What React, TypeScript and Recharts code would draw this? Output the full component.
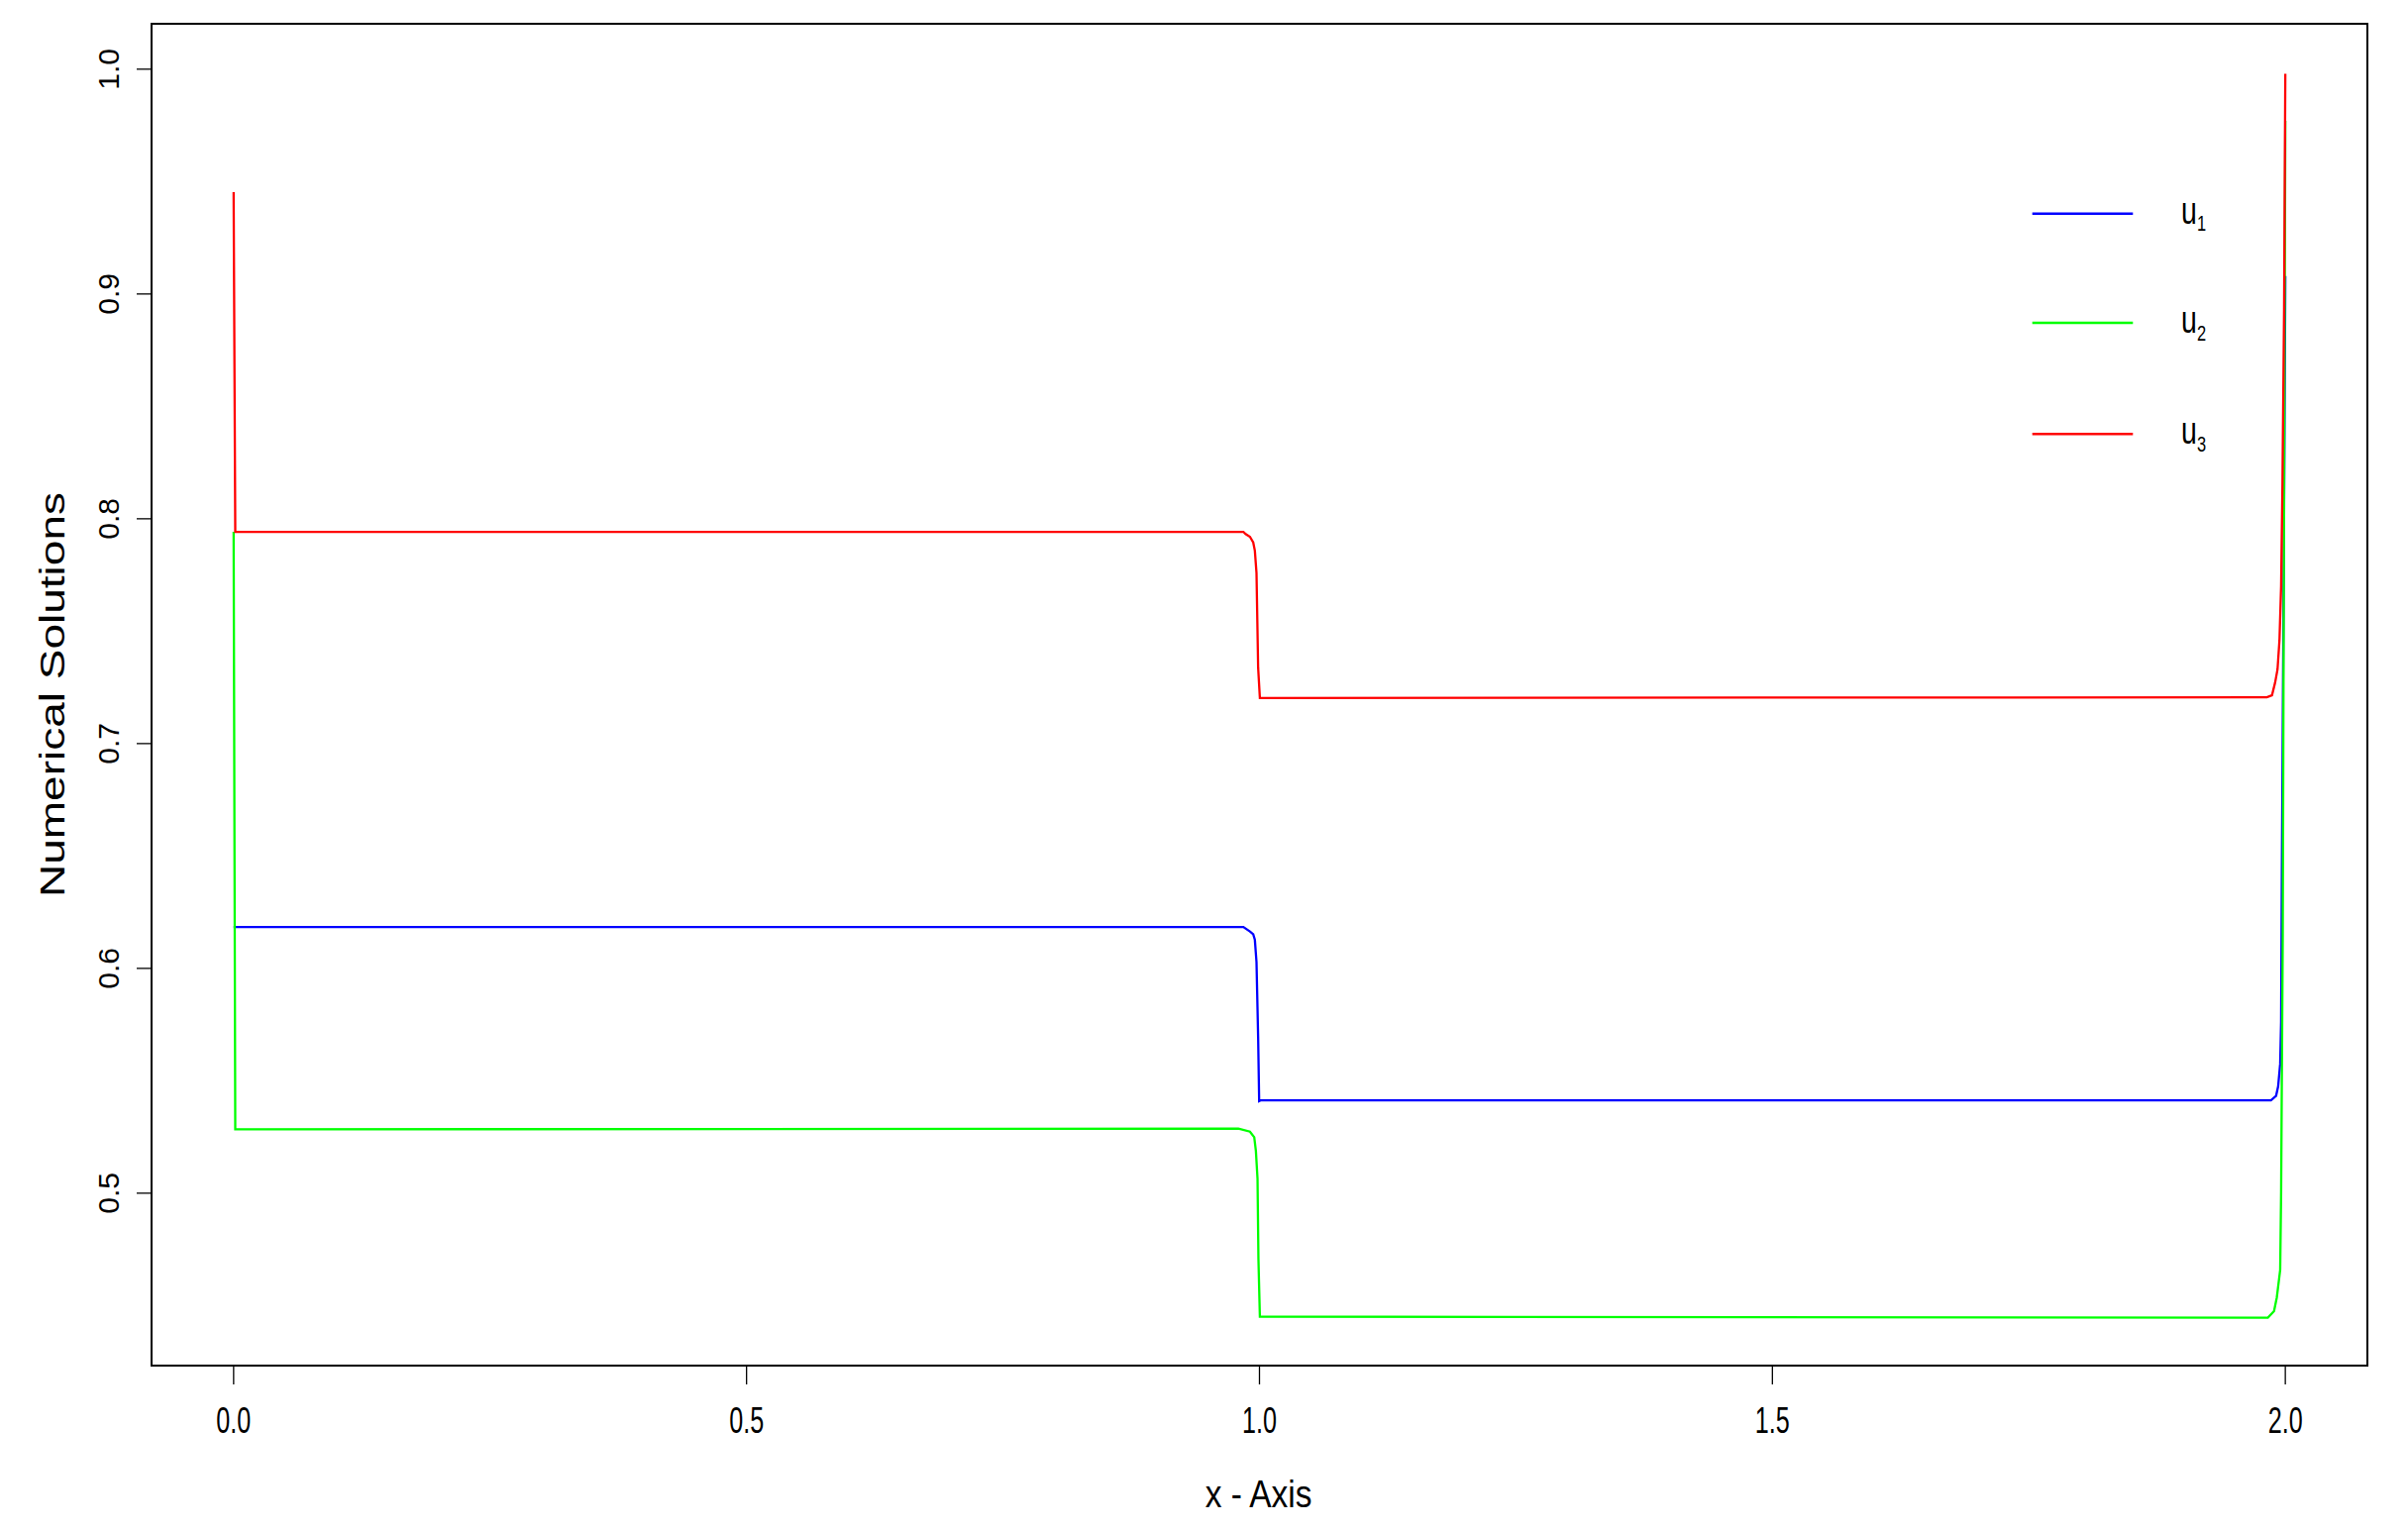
import React from 'react';
import { LineChart, Line, XAxis, YAxis, ReferenceArea, Legend } from 'recharts';

// ---- data (x, value) ----
const u1Points: [number, number][] = [
  [0, 0.6184], [0.0016, 0.6184], [0.9843, 0.6184], [0.9907, 0.6164], [0.9939, 0.6152],
  [0.9955, 0.6127], [0.9971, 0.6028], [0.9987, 0.5695], [0.9997, 0.541], [1.001, 0.5413],
  [1.986, 0.5413], [1.991, 0.5433], [1.993, 0.5475], [1.995, 0.5576], [1.9959, 0.5761],
  [1.9966, 0.6413], [1.9985, 0.78], [2.0, 0.908],
];
const u2Points: [number, number][] = [
  [0, 0.7942], [0.0016, 0.5284], [0.9794, 0.5287], [0.9907, 0.5274], [0.9949, 0.5249],
  [0.9965, 0.5188], [0.9981, 0.5064], [0.999, 0.4706], [1.0004, 0.4451], [1.983, 0.4446],
  [1.989, 0.4475], [1.9917, 0.4536], [1.995, 0.4659], [1.9959, 0.5005], [1.9975, 0.6147],
  [1.9988, 0.8146], [2.0, 0.977],
];
const u3Points: [number, number][] = [
  [0, 0.9453], [0.0016, 0.7942], [0.9843, 0.7942], [0.9865, 0.7932], [0.9907, 0.792],
  [0.9939, 0.7895], [0.9955, 0.7858], [0.9971, 0.7759], [0.9987, 0.7338], [1.0004, 0.7203],
  [1.982, 0.7206], [1.987, 0.7215], [1.99, 0.727], [1.9924, 0.733], [1.9943, 0.746],
  [1.9959, 0.77], [1.9972, 0.815], [1.9988, 0.893], [2.0, 0.998],
];

const xTicks = [0, 0.5, 1, 1.5, 2];
const yTicks = [0.5, 0.6, 0.7, 0.8, 0.9, 1.0];
const xDomain: [number, number] = [-0.08, 2.08];
const yDomain: [number, number] = [0.4233, 1.0202];

const series = [
  { key: 'u1', base: 'u', sub: '1', color: '#0000FF', points: u1Points },
  { key: 'u2', base: 'u', sub: '2', color: '#00FF00', points: u2Points },
  { key: 'u3', base: 'u', sub: '3', color: '#FF0000', points: u3Points },
];

const FONT = '"Liberation Sans", Arial, sans-serif';

const toData = (pts: [number, number][]) => pts.map(([x, y]) => ({ x, y }));

const XTick = (props: any) => {
  const { x, y, payload } = props;
  return (
    <g transform={`translate(${x},${y + 49})`}>
      <text x={0} y={0} textAnchor="middle" fontSize={37} fontFamily={FONT} fill="#000" transform="scale(0.68,1)">
        {Number(payload.value).toFixed(1)}
      </text>
    </g>
  );
};

const YTick = (props: any) => {
  const { x, y, payload } = props;
  return (
    <text
      transform={`translate(${x - 18},${y}) rotate(-90)`}
      x={0}
      y={0}
      textAnchor="middle"
      fontSize={30}
      fontFamily={FONT}
      fill="#000"
    >
      {Number(payload.value).toFixed(1)}
    </text>
  );
};

const XTitle = (props: any) => {
  const vb = props.viewBox || { x: 145, y: 1371, width: 2237, height: 157 };
  return (
    <g transform={`translate(${vb.x + vb.width / 2 - 1},${vb.y + 143})`}>
      <text x={0} y={0} textAnchor="middle" fontSize={38} fontFamily={FONT} fill="#000" transform="scale(0.88,1)">
        x - Axis
      </text>
    </g>
  );
};

const YTitle = (props: any) => {
  const vb = props.viewBox || { x: 0, y: 16, width: 145, height: 1355 };
  return (
    <g transform={`translate(${vb.x + 57},${vb.y + vb.height / 2}) rotate(-90) scale(1,0.76)`}>
      <text x={0} y={0} textAnchor="middle" fontSize={46} fontFamily={FONT} fill="#000">
        Numerical Solutions
      </text>
    </g>
  );
};

const LegendBox = () => {
  const rows = [25.7, 136, 248.3];
  return (
    <svg width={220} height={280} style={{ display: 'block' }}>
      {series.map((s, i) => (
        <g key={s.key}>
          <line x1={11.7} x2={113.3} y1={rows[i]} y2={rows[i]} stroke={s.color} strokeWidth={2.4} />
          <g transform={`translate(162,${rows[i] + 10}) scale(0.75,1)`}>
            <text x={0} y={0} fontSize={38} fontFamily={FONT} fill="#000">{s.base}</text>
          </g>
          <g transform={`translate(178,${rows[i] + 17.5}) scale(0.75,1)`}>
            <text x={0} y={0} fontSize={22} fontFamily={FONT} fill="#000">{s.sub}</text>
          </g>
        </g>
      ))}
    </svg>
  );
};

export default function App() {
  return (
    <div style={{ width: 2415, height: 1528, background: '#fff' }}>
      <LineChart width={2415} height={1528} margin={{ top: 16, right: 33, bottom: 0, left: 0 }}>
        <XAxis
          dataKey="x"
          type="number"
          domain={xDomain}
          allowDataOverflow
          ticks={xTicks}
          tick={<XTick />}
          tickSize={19}
          tickMargin={0}
          tickLine={{ stroke: '#000', strokeWidth: 1.3 }}
          axisLine={false}
          height={157}
          interval={0}
          label={<XTitle />}
        />
        <YAxis
          dataKey="y"
          type="number"
          domain={yDomain}
          allowDataOverflow
          ticks={yTicks}
          tick={<YTick />}
          tickSize={15}
          tickMargin={0}
          tickLine={{ stroke: '#000', strokeWidth: 1.3 }}
          axisLine={false}
          width={145}
          interval={0}
          label={<YTitle />}
        />
        <ReferenceArea
          x1={xDomain[0]}
          x2={xDomain[1]}
          y1={yDomain[0]}
          y2={yDomain[1]}
          fill="none"
          fillOpacity={0}
          stroke="#000"
          strokeWidth={2}
          ifOverflow="visible"
        />
        {series.map((s) => (
          <Line
            key={s.key}
            name={s.key}
            data={toData(s.points)}
            dataKey="y"
            type="linear"
            stroke={s.color}
            strokeWidth={2.3}
            dot={false}
            activeDot={false}
            isAnimationActive={false}
          />
        ))}
        <Legend
          layout="horizontal"
          verticalAlign="middle"
          align="center"
          content={<LegendBox />}
          wrapperStyle={{ left: 2032, top: 182, width: 220, height: 280 }}
        />
      </LineChart>
    </div>
  );
}
